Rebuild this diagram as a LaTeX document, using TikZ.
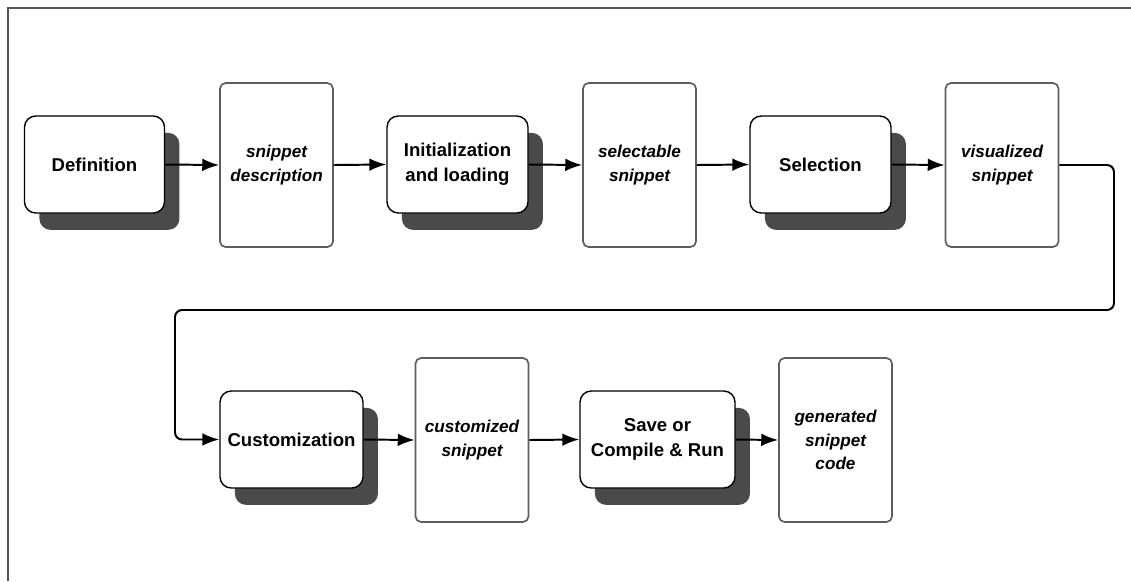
\documentclass[tikz,border=0pt]{standalone}
\usepackage{fontspec}
\setmainfont{Liberation Sans}
\usetikzlibrary{shadows,arrows.meta}
\definecolor{shadowgray}{HTML}{4A4A4A}
\definecolor{framegray}{HTML}{555555}
\definecolor{docgray}{HTML}{5E5E5E}

\begin{document}
\begin{tikzpicture}[x=0.025cm, y=-0.025cm, >={Latex[length=12pt,width=9pt]},
  every node/.append style={align=center, inner sep=2pt},
  process/.style={draw=black, line width=1pt, fill=white, rounded corners=8pt,
    minimum width=3.5cm, minimum height=2.425cm,
    font=\fontsize{13.2}{17.5}\selectfont\bfseries,
    drop shadow={shadow xshift=10.6pt, shadow yshift=-12pt, fill=shadowgray, opacity=1}},
  doc/.style={draw=docgray, line width=1.2pt, fill=white, rounded corners=4pt,
    minimum width=2.825cm, minimum height=4.1cm,
    font=\fontsize{12.2}{16.5}\selectfont\bfseries\itshape},
  flow/.style={->, line width=1.4pt}]
  \useasboundingbox (0,0) rectangle (1131,581);
  \draw[framegray, line width=1.5pt] (8,581) -- (8,8) -- (1131,8);
  \node [process] at (94.5,164.5) (def) {Definition};
  \node [doc] at (276.5,165) (desc) {snippet\\description};
  \node [process, minimum width=3.525cm] at (457.5,164.5) (init) {Initialization\\and loading};
  \node [doc] at (639.5,165) (selsnip) {selectable\\snippet};
  \node [process, minimum width=3.525cm] at (820.5,164.5) (sel) {Selection};
  \node [doc] at (1002,165) (vis) {visualized\\snippet};
  \node [process, minimum width=3.575cm] at (291.5,439.5) (cust) {Customization};
  \node [doc] at (472,440) (custsnip) {customized\\snippet};
  \node [process, minimum width=3.875cm] at (657.5,439.5) (save) {Save or\\Compile \& Run};
  \node [doc] at (835.5,440) (gen) {generated\\snippet\\code};
  \coordinate (turnA) at (1114,310);
  \coordinate (turnB) at (175,310);
  \draw[flow] (def.east) -- (desc.west);
  \draw[flow] (desc.east) -- (init.west);
  \draw[flow] (init.east) -- (selsnip.west);
  \draw[flow] (selsnip.east) -- (sel.west);
  \draw[flow] (sel.east) -- (vis.west);
  \draw[flow, rounded corners=5pt] (vis.east) -| (turnA) -- (turnB) |- (cust.west);
  \draw[flow] (cust.east) -- (custsnip.west);
  \draw[flow] (custsnip.east) -- (save.west);
  \draw[flow] (save.east) -- (gen.west);
\end{tikzpicture}
\end{document}
